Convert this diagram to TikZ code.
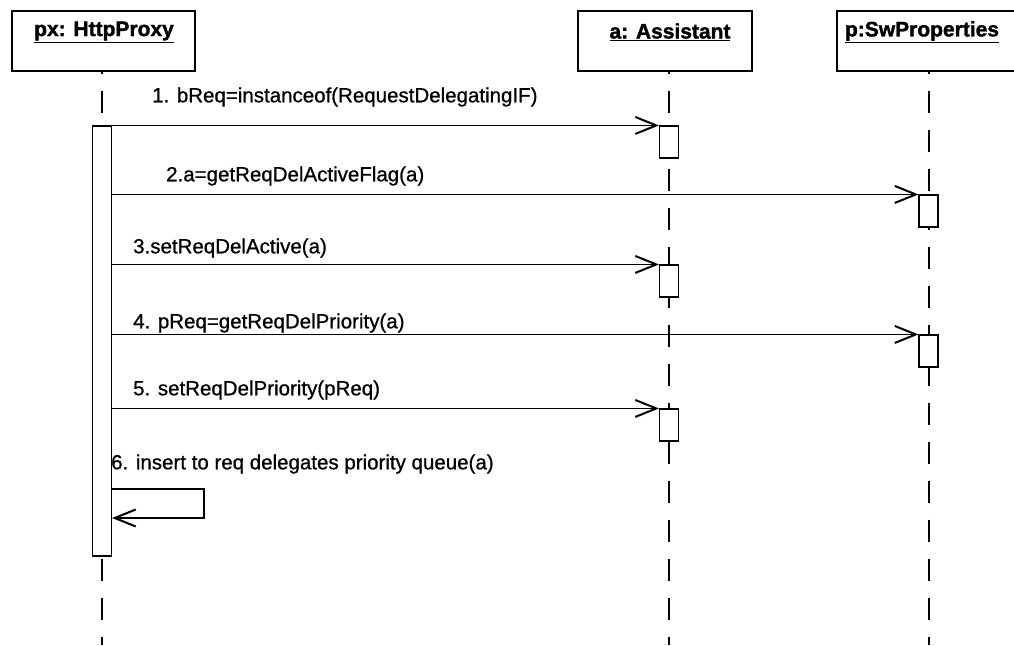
\documentclass[tikz,border=0pt]{standalone}
\usepackage{fontspec}
\setmainfont{Liberation Sans}
\newfontfamily\hdrfamily{Liberation Sans}[BoldFeatures={FakeBold=1.5}]
\newfontfamily\lblfamily{Liberation Sans}[FakeBold=0.8]
\usetikzlibrary{arrows.meta}
\begin{document}
\begin{tikzpicture}[x=1pt,y=-1pt,
  hdrbox/.style={draw, line width=1.2pt, rectangle, inner sep=0pt, minimum height=60pt},
  hdrtext/.style={font=\hdrfamily\bfseries\fontsize{21}{24}\selectfont, inner sep=0pt},
  lifeline/.style={line width=1.8pt, dash pattern=on 22pt off 17pt, dash phase=20pt},
  actbox/.style={draw, fill=white, line width=1.1pt, rectangle, inner sep=0pt, minimum width=19pt},
  msg/.style={line width=1.6pt, -{Straight Barb[length=21pt,width=17pt,line width=2pt]}},
  msglabel/.style={font=\lblfamily\fontsize{20.5}{24}\selectfont, inner sep=0pt, anchor=west}
]
\useasboundingbox (0,0) rectangle (1014,645);
\clip (0,0) rectangle (1014,645);

% object headers
\node[hdrbox, minimum width=183pt] (hpx) at (103.5,41) {};
\node[hdrtext] (tpx) at (104,32) {\underline{px: HttpProxy}};
\node[hdrbox, minimum width=174pt] (ha) at (665,41) {};
\node[hdrtext] (ta) at (670,32) {\underline{a: Assistant}};
\node[hdrbox, minimum width=200pt] (hp) at (937,41) {};
\node[hdrtext] (tp) at (922,32) {\underline{p:SwProperties}};

% lifelines
\coordinate (epx) at (102,645);
\coordinate (ea) at (669,645);
\coordinate (ep) at (929,645);
\draw[lifeline] (hpx.south -| epx) -- (epx);
\draw[lifeline] (ha.south -| ea) -- (ea);
\draw[lifeline] (hp.south -| ep) -- (ep);

% activation bars
\node[actbox, minimum height=430pt] (actpx) at (102,341) {};
\node[actbox, minimum height=32pt] (a1) at (669,142) {};
\node[actbox, minimum height=32pt] (p1) at (928.5,211) {};
\node[actbox, minimum height=32pt] (a2) at (669,281) {};
\node[actbox, minimum height=32pt] (p2) at (928.5,351) {};
\node[actbox, minimum height=32pt] (a3) at (669,425) {};

% messages
\draw[msg] (actpx.north west) -- (a1.north west);
\draw[msg] (actpx.east |- p1.north) -- (p1.north west);
\draw[msg] (actpx.east |- a2.north) -- (a2.north west);
\draw[msg] (actpx.east |- p2.north) -- (p2.north west);
\draw[msg] (actpx.east |- a3.north) -- (a3.north west);
\coordinate (lt) at (204,489);
\coordinate (lb) at (204,518);
\draw[msg] (actpx.east |- lt) -- (lt) -- (lb) -- (actpx.east |- lb);

% message labels
\node[msglabel] (m1) at (152,97) {1. bReq=instanceof(RequestDelegatingIF)};
\node[msglabel] (m2) at (166,176) {2.a=getReqDelActiveFlag(a)};
\node[msglabel] (m3) at (133,248) {3.setReqDelActive(a)};
\node[msglabel] (m4) at (133,323) {4. pReq=getReqDelPriority(a)};
\node[msglabel] (m5) at (133,390) {5. setReqDelPriority(pReq)};
\node[msglabel] (m6) at (111,464) {6. insert to req delegates priority queue(a)};
\end{tikzpicture}
\end{document}
